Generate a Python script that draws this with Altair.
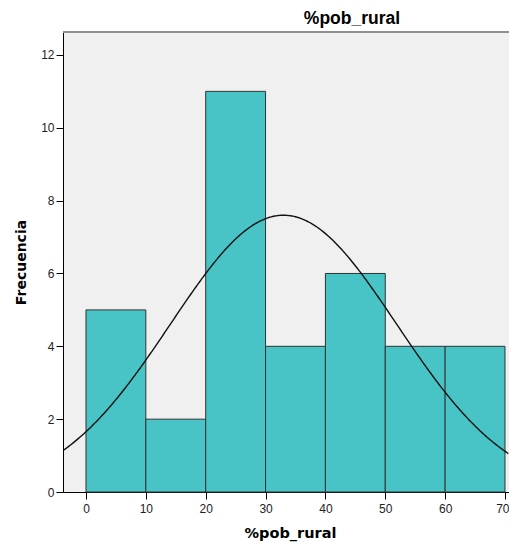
import altair as alt
import pandas as pd

# Histogram bins (%pob_rural) and their frequencies
bin_start = [0, 10, 20, 30, 40, 50, 60]
bin_end = [10, 20, 30, 40, 50, 60, 70]
counts = [5, 2, 11, 4, 6, 4, 4]

# Normal curve parameters (as drawn by SPSS)
curve_mean = 33.0
curve_sd = 18.9
n_total = 36
bin_width = 10

x_ticks = list(range(0, 71, 5))
y_ticks = [0, 2, 4, 6, 8, 10, 12]
x_domain = [-3.84, 70.67]
y_domain = [0, 12.63]

PLOT_W = 446
PLOT_H = 460

bars_df = pd.DataFrame({"start": bin_start, "end": bin_end, "count": counts})

xscale = alt.Scale(domain=x_domain, nice=False, zero=False)
yscale = alt.Scale(domain=y_domain, nice=False)

xaxis = alt.Axis(values=x_ticks, title="%pob_rural", grid=False, tickSize=7,
                 labelPadding=4, labelFont="Liberation Sans", labelFontSize=12,
                 labelColor="#222222", titleFont="DejaVu Sans", titleFontSize=14.5,
                 titleFontWeight="bold", titleColor="#000000", titlePadding=12,
                 domainColor="#000000", tickColor="#000000",
                 labelFlush=6, labelFlushOffset=4,
                 titleX=227, titleAnchor="middle")
yaxis = alt.Axis(values=y_ticks, title="Frecuencia", grid=False, tickSize=7,
                 labelPadding=2, labelFont="Liberation Sans", labelFontSize=12,
                 labelColor="#222222", titleFont="DejaVu Sans", titleFontSize=14,
                 titleFontWeight="bold", titleColor="#000000", titlePadding=12,
                 domainColor="#000000", tickColor="#000000")

bars = alt.Chart(bars_df).mark_rect(fill="#48C3C6", stroke="#333333", strokeWidth=1).encode(
    x=alt.X("start:Q", scale=xscale, axis=xaxis),
    x2="end:Q",
    y=alt.Y("count:Q", scale=yscale, axis=yaxis),
    y2=alt.datum(0),
)

curve = alt.Chart(alt.sequence(x_domain[0], x_domain[1] + 0.01, 0.2, as_="x")).transform_calculate(
    y=f"{n_total * bin_width} * densityNormal(datum.x, {curve_mean}, {curve_sd})"
).mark_line(color="#111111", strokeWidth=1.4, clip=True).encode(
    x=alt.X("x:Q", scale=xscale),
    y=alt.Y("y:Q", scale=yscale),
)

top_border = alt.Chart(pd.DataFrame({"a": [0]})).mark_rule(
    color="#8F8F8F", strokeWidth=2
).encode(x=alt.value(0), x2=alt.value(PLOT_W), y=alt.value(0))

chart = alt.layer(bars, curve, top_border).properties(
    width=PLOT_W,
    height=PLOT_H,
    title=alt.TitleParams("%pob_rural", font="Liberation Sans", fontSize=17.5,
                          fontWeight="bold", color="#000000", anchor="middle",
                          dx=66, offset=4),
    autosize=alt.AutoSizeParams(type="none"),
    padding={"left": 55, "top": 24, "right": 0, "bottom": 53},
    background="#FFFFFF",
).configure_view(
    fill="#F0F0F0", strokeWidth=0
)

chart.save("out.html", embed_options={"renderer": "svg", "actions": False})
